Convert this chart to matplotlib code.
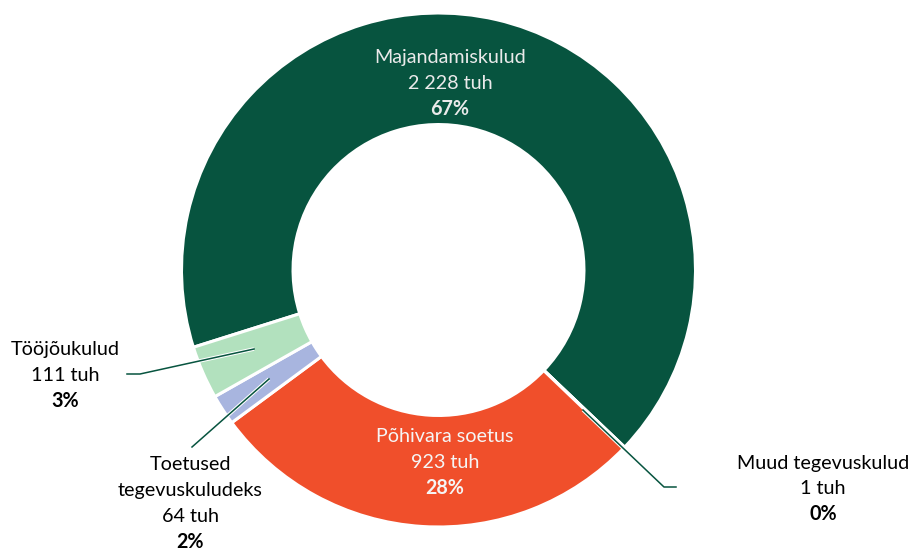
import matplotlib.pyplot as plt
import numpy as np

names = ["Majandamiskulud", "Muud tegevuskulud", "Põhivara soetus",
         "Toetused\ntegevuskuludeks", "Tööjõukulud"]
values = [2228, 1, 923, 64, 111]
colors = ["#07543F", "#07543F", "#F04F2B", "#A8B5DF", "#B2E1BE"]

total = sum(values)
pct = [round(v / total * 100) for v in values]
amount = [f"{v:,}".replace(",", " ") + " tuh" for v in values]

plt.rcParams['font.family'] = ['Lato', 'DejaVu Sans']

W, H = 911, 551
fig = plt.figure(figsize=(W / 100, H / 100), dpi=100)
ax = fig.add_axes([0, 0, 1, 1])

cx, cy, R = 438.5, H - 270, 257
ax.pie(values, colors=colors, startangle=197.5, counterclock=False,
       center=(cx, cy), radius=R, frame=True,
       wedgeprops=dict(width=R * 0.434, edgecolor='white', linewidth=2.2))
ax.set_xlim(0, W)
ax.set_ylim(0, H)
ax.set_aspect('equal')
ax.axis('off')

def label(i, x, y, col, dy=25.5):
    lines = names[i].split("\n") + [amount[i]]
    for k, s in enumerate(lines):
        ax.text(x, H - (y + k * dy), s, ha='center', va='center',
                fontsize=14.2, color=col)
    ax.text(x, H - (y + len(lines) * dy), f"{pct[i]}%", ha='center',
            va='center', fontsize=14.2, color=col, fontweight='bold')

def leader(pts):
    xs = [p[0] for p in pts]
    ys = [H - p[1] for p in pts]
    ax.plot(xs, ys, color='white', lw=2.6, solid_capstyle='butt', zorder=3)
    ax.plot(xs, ys, color='#07543F', lw=1.1, zorder=4)

label(0, 450, 58, '#EAEAEA')
label(2, 445, 437, '#F5F5F5')
label(4, 65, 350, 'black')
label(3, 190, 465, 'black')
label(1, 823, 463, 'black')

leader([(127, 374), (140, 374), (254, 349)])
leader([(192, 447), (269, 379)])
leader([(676, 487), (664, 487), (583, 410)])

fig.savefig("out.png", dpi=100)
